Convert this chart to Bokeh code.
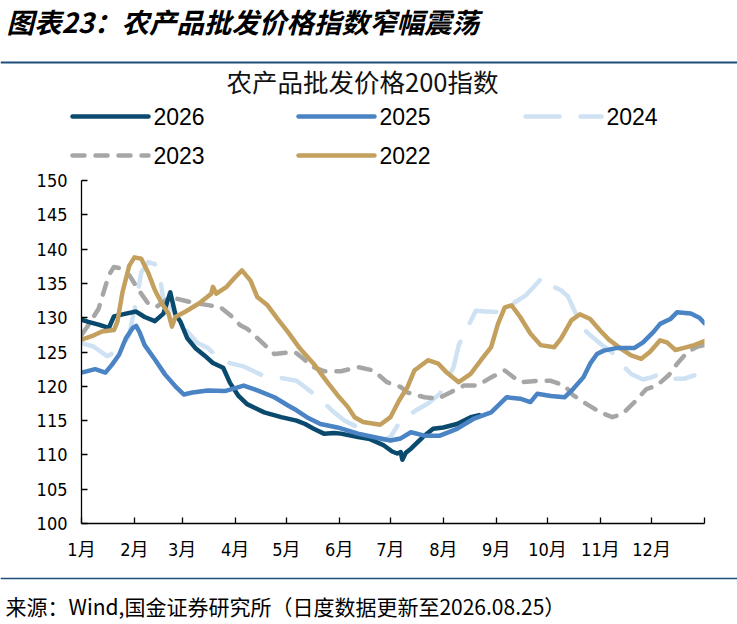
from bokeh.plotting import figure
from bokeh.models import Range1d, FixedTicker, Span
from bokeh.layouts import column
from bokeh.embed import file_html
from bokeh.resources import INLINE
from bokeh.core.properties import value

# ---------------- data ----------------
TITLE = "图表23：农产品批发价格指数窄幅震荡"
CHART_TITLE = "农产品批发价格200指数"
SOURCE = "来源：Wind,国金证券研究所（日度数据更新至2026.08.25）"

month_starts = [0, 31, 59, 90, 120, 151, 181, 212, 243, 273, 304, 334, 365]
month_labels = ["1月", "2月", "3月", "4月", "5月", "6月", "7月", "8月", "9月",
                "10月", "11月", "12月", ""]
y_ticks = [100, 105, 110, 115, 120, 125, 130, 135, 140, 145, 150]

days26 = [0, 4, 10, 16, 19, 26, 32, 37, 43, 48, 52, 55, 58, 62, 67, 72, 77, 83, 87, 92,
          97, 102, 107, 117, 126, 131, 136, 142, 148, 152, 162, 169, 177, 182, 185, 187,
          188, 190, 193, 200, 206, 212, 220, 228, 233]
vals26 = [129.7, 129.4, 129.0, 128.5, 130.2, 130.6, 130.9, 130.1, 129.5, 130.6, 133.7, 130.5,
          129.4, 127.0, 125.5, 124.5, 123.4, 122.7, 120.5, 118.6, 117.4, 116.8, 116.2, 115.5,
          115.0, 114.5, 113.8, 113.1, 113.2, 113.1, 112.6, 112.3, 111.4, 110.5, 110.2, 110.4,
          109.3, 110.3, 110.9, 112.6, 113.8, 114.0, 114.5, 115.5, 115.8]

days25 = [0, 8, 14, 18, 22, 26, 30, 32, 34, 37, 43, 49, 55, 60, 65, 74, 84, 88, 95, 103,
          113, 121, 126, 132, 140, 150, 162, 171, 181, 187, 193, 201, 210, 220, 230, 240,
          249, 257, 263, 267, 275, 283, 288, 294, 298, 302, 306, 314, 324, 329, 335, 339,
          345, 349, 357, 362, 365]
vals25 = [122.0, 122.5, 122.0, 123.2, 124.6, 127.0, 128.5, 128.8, 127.9, 126.0, 123.9, 121.7,
          120.0, 118.8, 119.1, 119.4, 119.3, 119.6, 120.1, 119.4, 118.4, 117.2, 116.5, 115.5,
          114.5, 114.0, 113.1, 112.6, 112.1, 112.4, 113.3, 112.8, 112.8, 113.8, 115.3, 116.2,
          118.4, 118.2, 117.7, 118.9, 118.6, 118.4, 119.6, 121.3, 123.3, 124.7, 125.2, 125.6,
          125.6, 126.4, 127.9, 129.1, 129.8, 130.8, 130.6, 130.0, 129.2]

days24 = [0, 7, 15, 19, 24, 28, 30, 32, 35, 39, 43, 46, 48, 54, 59, 62, 68, 74, 81, 88,
          95, 105, 115, 126, 134, 142, 148, 154, 162, 169, 173, 177, 181, 187, 196, 203,
          210, 218, 221, 231, 237, 244, 251, 260, 265, 270, 273, 281, 285, 291, 296, 304,
          312, 316, 322, 329, 334, 339, 345, 353, 359]
vals24 = [126.3, 125.8, 124.4, 124.9, 125.8, 127.5, 130.0, 132.3, 136.6, 138.1, 137.8, 135.9,
          132.5, 131.0, 128.5, 128.0, 126.3, 125.6, 123.9, 123.3, 122.9, 121.7, 121.3, 120.8,
          119.3, 117.6, 116.2, 115.0, 114.0, 112.6, 111.9, 112.2, 112.6, 115.0, 116.5, 117.5,
          118.9, 122.8, 126.0, 131.0, 130.9, 130.8, 131.8, 133.2, 134.5, 135.9, 134.9, 134.0,
          133.1, 129.8, 127.9, 126.2, 124.7, 123.3, 121.8, 121.0, 121.3, 121.8, 121.1, 121.1,
          121.6]

days23 = [0, 4, 10, 16, 19, 23, 28, 33, 39, 44, 52, 60, 67, 75, 81, 87, 93, 97, 101, 107,
          113, 120, 125, 130, 135, 142, 152, 162, 171, 179, 187, 191, 201, 209, 216, 224,
          232, 240, 248, 257, 267, 275, 283, 288, 296, 304, 311, 317, 324, 331, 337, 344,
          349, 355, 361, 365]
vals23 = [127.5, 128.9, 131.3, 136.2, 137.4, 137.2, 136.2, 134.2, 132.1, 131.6, 133.0, 132.5,
          132.1, 131.8, 131.6, 130.4, 128.9, 128.4, 127.5, 126.1, 124.7, 124.9, 125.0, 124.0,
          122.9, 122.2, 122.2, 122.8, 122.3, 120.6, 119.9, 119.1, 118.4, 118.2, 119.1, 120.1,
          120.1, 121.3, 122.3, 120.6, 120.8, 120.8, 120.1, 118.7, 117.4, 116.2, 115.5, 116.0,
          117.7, 119.6, 120.1, 121.6, 123.3, 125.0, 125.8, 126.0]

days22 = [0, 6, 12, 19, 21, 24, 28, 31, 35, 39, 43, 47, 51, 53, 55, 61, 69, 76, 77, 79,
          85, 90, 94, 99, 103, 109, 115, 121, 128, 136, 144, 150, 156, 160, 165, 175, 181,
          186, 191, 195, 203, 209, 214, 221, 228, 234, 240, 244, 248, 252, 257, 263, 269,
          277, 281, 287, 292, 298, 304, 309, 316, 322, 328, 333, 339, 343, 348, 353, 359, 365]
vals22 = [126.8, 127.3, 128.0, 128.2, 129.4, 133.7, 137.6, 138.8, 138.6, 136.6, 134.0, 132.1,
          130.6, 128.7, 130.1, 130.9, 132.1, 133.5, 134.5, 133.5, 134.5, 135.9, 136.9, 135.4,
          133.0, 131.8, 129.8, 127.9, 125.5, 123.3, 120.6, 118.7, 117.0, 115.5, 114.8, 114.4,
          115.5, 117.9, 119.9, 122.3, 123.8, 123.3, 122.0, 120.6, 121.8, 123.8, 125.7, 129.1,
          131.5, 131.8, 130.1, 127.7, 126.0, 125.7, 127.0, 129.6, 130.5, 129.8, 128.1, 126.8,
          125.5, 124.5, 124.0, 125.0, 126.7, 126.4, 125.3, 125.6, 126.0, 126.6]

# ---------------- styles ----------------
W = 737
CJK = "Noto Sans CJK SC"
NARROW = "Liberation Sans Narrow, DejaVu Sans Condensed, Noto Sans CJK SC"
SEP = "#1F4E79"
LW = 4.5

series = [
    # name, days, values, color, dash, legend column, legend row
    ("2026", days26, vals26, "#0A4A6E", "solid", 0, 0),
    ("2025", days25, vals25, "#4A84C4", "solid", 1, 0),
    ("2024", days24, vals24, "#CFE2F3", "34 21", 2, 0),
    ("2023", days23, vals23, "#A6A6A6", "12 11", 0, 1),
    ("2022", days22, vals22, "#C4A05E", "solid", 1, 1),
]
draw_order = ["2024", "2023", "2026", "2022", "2025"]


def no_align(fig):
    try:
        fig.frame_align = False
    except Exception:
        pass


# ---------------- header ----------------
HH = 168
head = figure(width=W, height=HH, x_range=Range1d(0, W), y_range=Range1d(HH, 0),
              x_axis_type=None, y_axis_type=None, toolbar_location=None,
              output_backend="svg", min_border=0, outline_line_color=None)
head.grid.visible = False
no_align(head)
head.text(x=[6], y=[20], text=[TITLE], text_font=value(CJK), text_font_size="27.5px",
          text_font_style="bold italic", text_baseline="middle", text_align="left",
          text_color="#000000")
head.add_layout(Span(location=62, dimension="width", line_color=SEP, line_width=2))
head.text(x=[362], y=[80], text=[CHART_TITLE], text_font=value(CJK), text_font_size="25.5px",
          text_baseline="middle", text_align="center", text_color="#111111")

leg_x = [72, 298, 525]
leg_y = [116, 155]
for name, d, v, col, dash, cx, ry in series:
    x0 = leg_x[cx]
    yy = leg_y[ry]
    head.line(x=[x0, x0 + 76], y=[yy, yy], line_color=col, line_width=LW, line_dash=dash,
              line_cap="round")
    head.text(x=[x0 + 81], y=[yy], text=[name], text_font=value("Liberation Sans"),
              text_font_size="23px", text_baseline="middle", text_align="left",
              text_color="#000000")

# ---------------- main chart ----------------
p = figure(frame_width=623, frame_height=343, min_border_left=81, min_border_right=33,
           min_border_top=12, min_border_bottom=40, x_range=Range1d(0, 365),
           y_range=Range1d(100, 150), toolbar_location=None, output_backend="svg",
           outline_line_color=None)
p.grid.visible = False
no_align(p)

lookup = {s[0]: s for s in series}
for name in draw_order:
    _, d, v, col, dash, _, _ = lookup[name]
    p.line(x=d, y=v, line_color=col, line_width=LW, line_dash=dash,
           line_cap="round", line_join="round")

p.xaxis.ticker = FixedTicker(ticks=month_starts)
p.xaxis.major_label_overrides = {t: l for t, l in zip(month_starts, month_labels)}
p.yaxis.ticker = FixedTicker(ticks=y_ticks)
for ax in p.axis:
    ax.axis_line_color = "#000000"
    ax.axis_line_width = 1.3
    ax.major_tick_line_color = "#000000"
    ax.major_tick_line_width = 1.3
    ax.major_tick_in = 6
    ax.major_tick_out = 0
    ax.minor_tick_line_color = None
    ax.major_label_text_font = NARROW
    ax.major_label_text_font_size = "18px"
    ax.major_label_text_color = "#000000"
p.yaxis.major_label_standoff = 14
p.xaxis.major_label_standoff = 15

# ---------------- footer ----------------
FH = 60
foot = figure(width=W, height=FH, x_range=Range1d(0, W), y_range=Range1d(FH, 0),
              x_axis_type=None, y_axis_type=None, toolbar_location=None,
              output_backend="svg", min_border=0, outline_line_color=None)
foot.grid.visible = False
no_align(foot)
foot.add_layout(Span(location=15, dimension="width", line_color=SEP, line_width=1.5))
foot.text(x=[5], y=[42], text=[SOURCE], text_font=value(CJK), text_font_size="21px",
          text_baseline="middle", text_align="left", text_color="#000000")

layout = column(head, p, foot, spacing=0)
open("out.html", "w").write(file_html(layout, INLINE))
